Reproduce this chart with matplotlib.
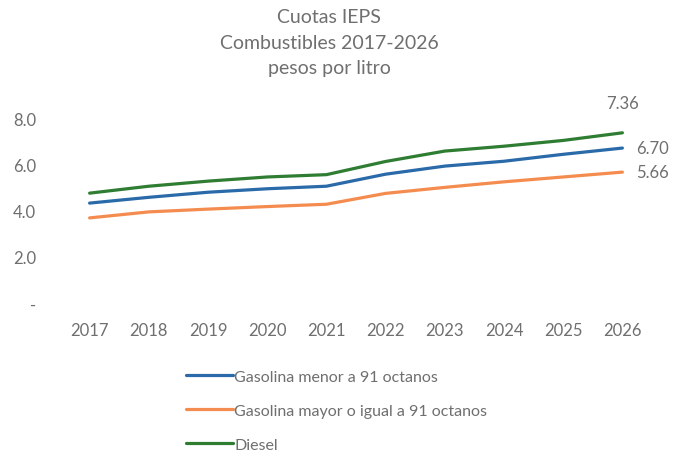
import matplotlib as mpl
mpl.use('Agg')
import matplotlib.pyplot as plt

years = [2017, 2018, 2019, 2020, 2021, 2022, 2023, 2024, 2025, 2026]
menor_91 = [4.32, 4.57, 4.79, 4.94, 5.05, 5.57, 5.92, 6.13, 6.43, 6.70]
mayor_91 = [3.68, 3.94, 4.06, 4.17, 4.27, 4.74, 5.00, 5.24, 5.45, 5.66]
diesel = [4.75, 5.05, 5.27, 5.45, 5.55, 6.12, 6.57, 6.78, 7.03, 7.36]
yticks = [0, 2, 4, 6, 8]
ylabels = ["-", "2.0", "4.0", "6.0", "8.0"]

grey = "#6f6f6f"
plt.rcParams['font.family'] = ['Lato', 'DejaVu Sans']

fig = plt.figure(figsize=(6.74, 4.52), dpi=100)
ax = fig.add_axes([60 / 674, 1 - 304 / 452, 592 / 674, 185 / 452])

l1, = ax.plot(years, menor_91, color="#2a6aa9", lw=2.3, solid_capstyle='round')
l2, = ax.plot(years, mayor_91, color="#f58c4f", lw=2.3, solid_capstyle='round')
l3, = ax.plot(years, diesel, color="#2f7d32", lw=2.3, solid_capstyle='round')

ax.set_xlim(2016.5, 2026.5)
ax.set_ylim(0, 8)
ax.set_xticks(years)
ax.set_xticklabels([str(y) for y in years])
ax.set_yticks(yticks)
ax.set_yticklabels(ylabels)
ax.tick_params(length=0, colors=grey, labelsize=12)
ax.tick_params(axis='x', pad=14)
ax.tick_params(axis='y', pad=17)
for s in ax.spines.values():
    s.set_visible(False)

# end labels
ax.annotate("%.2f" % diesel[-1], (years[-1], diesel[-1]), xytext=(0, 16),
            textcoords='offset points', color=grey, fontsize=12, ha='center', va='bottom')
ax.annotate("%.2f" % menor_91[-1], (years[-1], menor_91[-1]), xytext=(10, 0),
            textcoords='offset points', color=grey, fontsize=12, ha='left', va='center')
ax.annotate("%.2f" % mayor_91[-1], (years[-1], mayor_91[-1]), xytext=(10, 0),
            textcoords='offset points', color=grey, fontsize=12, ha='left', va='center')

fig.text(329 / 674, 0.98, "Cuotas IEPS\nCombustibles 2017-2026\npesos por litro",
         ha='center', va='top', color=grey, fontsize=14, linespacing=1.62)

fig.legend([l1, l2, l3],
           ["Gasolina menor a 91 octanos", "Gasolina mayor o igual a 91 octanos", "Diesel"],
           loc='upper left', bbox_to_anchor=(180 / 674, 1 - 364 / 452), frameon=False,
           labelcolor=grey, fontsize=11.5, handlelength=2.9, handletextpad=0.1,
           labelspacing=1.25, borderaxespad=0)

fig.savefig("out.png", dpi=100)
